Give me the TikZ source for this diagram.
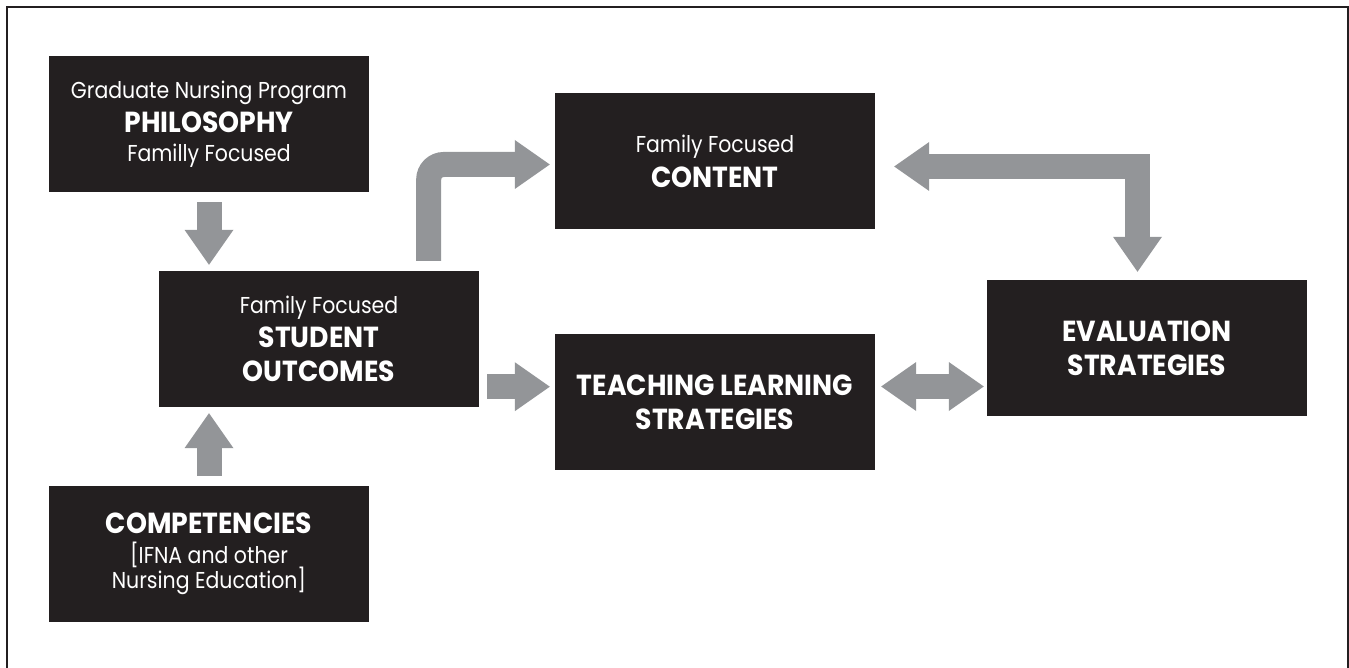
\documentclass[tikz,border=0pt]{standalone}
\usepackage{fontspec}
\setmainfont{Poppins}[FakeStretch=0.89, BoldFeatures={FakeStretch=0.92}]
\usetikzlibrary{arrows.meta,calc}
\definecolor{boxblack}{HTML}{231F20}
\definecolor{arrowgray}{HTML}{939598}
\newcommand{\boxhead}[1]{{\fontsize{29}{34}\selectfont\bfseries #1}}
\tikzset{
  box/.style={fill=boxblack, text=white, minimum width=320pt, minimum height=136pt,
    inner sep=0pt, align=center, font=\fontsize{23}{34}\selectfont},
  gtip/.style={-{Triangle[width=49pt,length=35pt,line width=0pt]}},
  gtips/.style={{Triangle[width=49pt,length=35pt,line width=0pt]}-{Triangle[width=49pt,length=35pt,line width=0pt]}},
  garrow/.style={draw=arrowgray, line width=25pt},
}
\begin{document}
\begin{tikzpicture}[x=1pt,y=-1pt]
\useasboundingbox (0,0) rectangle (1349,668);
\draw[boxblack, line width=2pt] (7,7) rectangle (1347.5,680);

\node[box] (phil) at (209,124) {Graduate Nursing Program\\\boxhead{PHILOSOPHY}\\[-5pt]Familly Focused};
\node[box] (cont) at (715,161) {Family Focused\\[1pt]\boxhead{CONTENT}};
\node[box] (stud) at (319,339) {Family Focused\\\boxhead{STUDENT}\\\boxhead{OUTCOMES}};
\node[box] (teach) at (715,402) {\boxhead{TEACHING LEARNING}\\\boxhead{STRATEGIES}};
\node[box] (eval) at (1147,348) {\boxhead{EVALUATION}\\\boxhead{STRATEGIES}};
\node[box] (comp) at (209,554) {\boxhead{COMPETENCIES}\\[-4pt]{[}IFNA and other\\[-9pt]Nursing Education{]}};

% philosophy -> student outcomes
\draw[garrow,gtip] ($(phil.south)+(0,10)$) -- ($(phil.south |- stud.north)+(0,-6)$);
% competencies -> student outcomes
\draw[garrow,gtip] ($(comp.north)+(0,-10)$) -- ($(comp.north |- stud.south)+(0,6)$);
% student outcomes -> teaching learning
\draw[garrow,gtip] ($(stud.south east)+(8,-20.5)$) -- ($(teach.west |- stud.south east)+(-5,-20.5)$);
% student outcomes -> content
\draw[garrow,gtip,rounded corners=15pt] ($(stud.north east)+(-50.5,-10)$) |- ($(cont.west)+(-5,3.5)$);
% content <-> evaluation
\draw[garrow,gtips,line join=miter] ($(cont.east)+(19,5.5)$) -| ($(eval.north)+(-9.5,-8)$);
% teaching learning <-> evaluation
\draw[garrow,gtips] ($(teach.east)+(6,-15.5)$) -- ($(eval.west |- teach.east)+(-3,-15.5)$);
\end{tikzpicture}
\end{document}
